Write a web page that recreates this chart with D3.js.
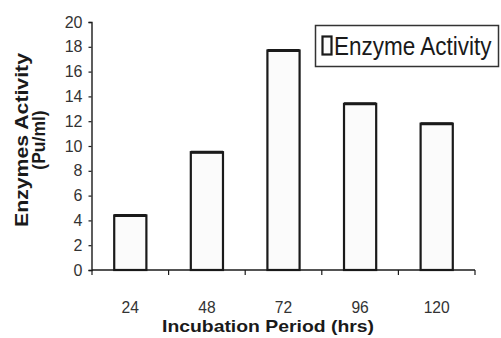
<!DOCTYPE html>
<html>
<head>
<meta charset="utf-8">
<script src="https://cdn.jsdelivr.net/npm/d3@7"></script>
<style>
  html, body { margin: 0; padding: 0; background: #fff; }
  svg { display: block; }
  text { font-family: "Liberation Sans", Arial, sans-serif; }
</style>
</head>
<body>
<svg id="chart" width="501" height="338"></svg>
<script>
// Enzyme activity per incubation period
const periods = ["24", "48", "72", "96", "120"];
const activity = [4.4, 9.5, 17.7, 13.4, 11.8];
const yTicks = [0, 2, 4, 6, 8, 10, 12, 14, 16, 18, 20];
const seriesName = "Enzyme Activity";

const svg = d3.select("#chart");
const ink = "#1a1a1a";

const x = d3.scaleBand()
  .domain(periods)
  .range([92, 475])
  .paddingInner(0.58)
  .paddingOuter(0.29);

const y = d3.scaleLinear()
  .domain([0, 20])
  .range([270, 22]);

// bars
svg.append("g")
  .selectAll("rect")
  .data(activity)
  .join("rect")
  .attr("x", (d, i) => x(periods[i]))
  .attr("y", d => y(d))
  .attr("width", x.bandwidth())
  .attr("height", d => y(0) - y(d))
  .attr("fill", "#fbfbfb")
  .attr("stroke", ink)
  .attr("stroke-width", 2.2);

// heavier top edge on each bar
svg.append("g")
  .selectAll("line")
  .data(activity)
  .join("line")
  .attr("x1", (d, i) => x(periods[i]))
  .attr("x2", (d, i) => x(periods[i]) + x.bandwidth())
  .attr("y1", d => y(d))
  .attr("y2", d => y(d))
  .attr("stroke", ink)
  .attr("stroke-width", 3);

// y axis
const yAxis = svg.append("g")
  .attr("transform", "translate(91.5,0)")
  .call(d3.axisLeft(y).tickValues(yTicks).tickSize(3).tickPadding(6));
yAxis.select(".domain").attr("stroke", ink).attr("stroke-width", 1.4);
yAxis.selectAll(".tick line").attr("stroke", ink).attr("stroke-width", 1.2);
yAxis.selectAll(".tick text")
  .attr("font-size", 16)
  .attr("fill", "#333")
  .attr("font-family", "'Liberation Sans', Arial, sans-serif");

// x axis: baseline, boundary ticks between categories, centred labels
const xAxis = svg.append("g");
const step = x.step();
const boundaries = d3.range(periods.length + 1).map(i => x.range()[0] + i * step);
xAxis.append("line")
  .attr("x1", x.range()[0]).attr("x2", x.range()[1])
  .attr("y1", y(0)).attr("y2", y(0))
  .attr("stroke", ink).attr("stroke-width", 1.4);
xAxis.selectAll("line.bt")
  .data(boundaries)
  .join("line")
  .attr("class", "bt")
  .attr("x1", d => d).attr("x2", d => d)
  .attr("y1", y(0)).attr("y2", y(0) + 5)
  .attr("stroke", ink).attr("stroke-width", 1.2);
xAxis.selectAll("text")
  .data(periods)
  .join("text")
  .attr("x", d => x(d) + x.bandwidth() / 2)
  .attr("y", 313)
  .attr("text-anchor", "middle")
  .attr("font-size", 17)
  .attr("fill", "#333")
  .attr("transform", d => {
    const cx = x(d) + x.bandwidth() / 2;
    return `translate(${cx},0) scale(0.92,1) translate(${-cx},0)`;
  })
  .text(d => d);

// axis titles
svg.append("text")
  .attr("x", 268)
  .attr("y", 332)
  .attr("text-anchor", "middle")
  .attr("font-size", 17)
  .attr("font-weight", "bold")
  .attr("fill", ink)
  .attr("textLength", 212)
  .attr("lengthAdjust", "spacingAndGlyphs")
  .text("Incubation Period (hrs)");

const yTitle = svg.append("g").attr("transform", "translate(0,140)");
yTitle.append("text")
  .attr("transform", "translate(28,0) rotate(-90)")
  .attr("text-anchor", "middle")
  .attr("font-size", 17.5)
  .attr("font-weight", "bold")
  .attr("fill", ink)
  .attr("textLength", 174)
  .attr("lengthAdjust", "spacingAndGlyphs")
  .text("Enzymes Activity");
yTitle.append("text")
  .attr("transform", "translate(45,0) rotate(-90)")
  .attr("text-anchor", "middle")
  .attr("font-size", 17.5)
  .attr("font-weight", "bold")
  .attr("fill", ink)
  .text("(Pu/ml)");

// legend
const legend = svg.append("g");
legend.append("rect")
  .attr("x", 315.5).attr("y", 25.5)
  .attr("width", 183).attr("height", 41)
  .attr("fill", "#fff")
  .attr("stroke", "#333")
  .attr("stroke-width", 1.5);
legend.append("rect")
  .attr("x", 322.5).attr("y", 36.5)
  .attr("width", 9).attr("height", 18)
  .attr("fill", "#fbfbfb")
  .attr("stroke", ink)
  .attr("stroke-width", 2.2);
// legend label, horizontally condensed
legend.append("text")
  .attr("transform", "translate(334,55) scale(0.9,1)")
  .attr("font-size", 25)
  .attr("fill", ink)
  .text(seriesName);
</script>
</body>
</html>
